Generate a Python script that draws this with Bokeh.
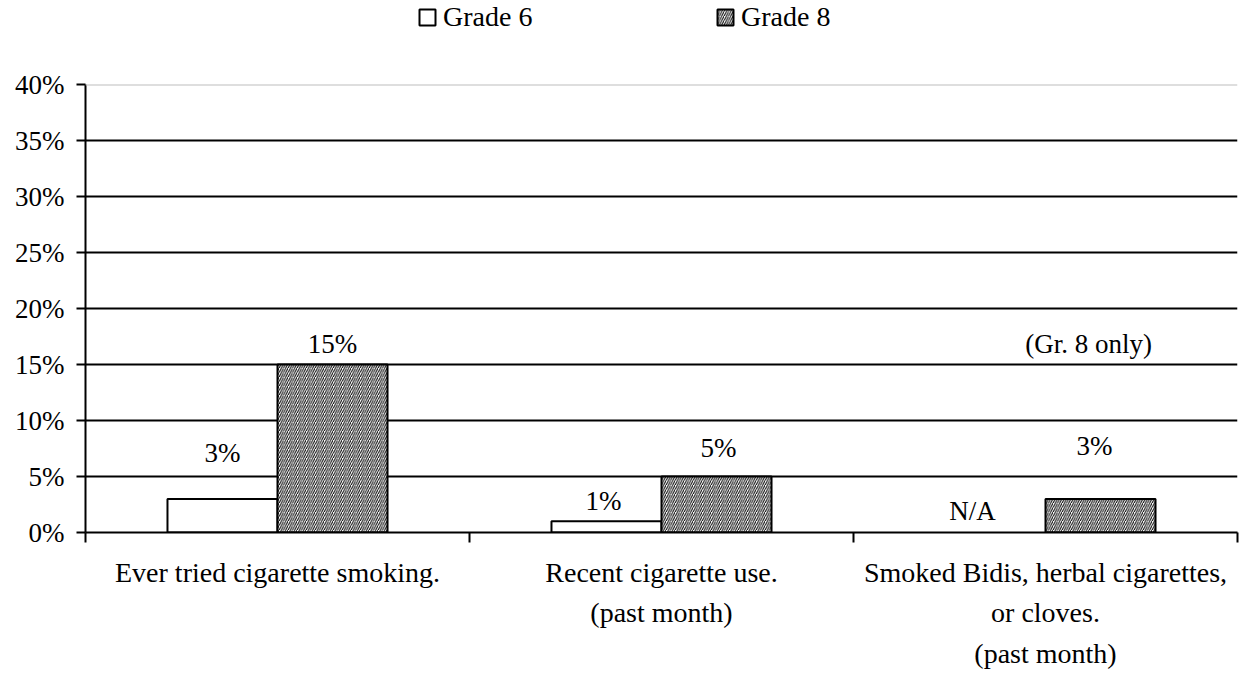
from bokeh.plotting import figure
from bokeh.layouts import column
from bokeh.models import (Range1d, FixedTicker, PrintfTickFormatter,
                          Label, LabelSet, Legend, LegendItem, ColumnDataSource, Span)
from bokeh.transform import dodge
from bokeh.core.properties import value
from bokeh.embed import file_html
from bokeh.resources import INLINE

# ---------------- data ----------------
category_lines = [
    ["Ever tried cigarette smoking."],
    ["Recent cigarette use.", "(past month)"],
    ["Smoked Bidis, herbal cigarettes,", "or cloves.", "(past month)"],
]
categories = ["\n".join(lines) for lines in category_lines]
series_names = ["Grade 6", "Grade 8"]
grade6 = [3, 1, None]
grade8 = [15, 5, 3]
y_ticks = [0, 5, 10, 15, 20, 25, 30, 35, 40]
missing_text = "N/A"
note_text = "(Gr. 8 only)"

# ---------------- layout / style ----------------
FONT = "Liberation Serif"
W, H = 1241, 674
LEG_H = 44
BAR_W = 0.2865
g6_dy = [46, 20, 22]      # label lift above bar top (px)
g6_dx = [0, -3, -18]
g8_dy = [21, 29, 53]
g8_dx = [0, 2, -6]
G8_STYLE = dict(fill_color="white", line_color="black", line_width=2,
                hatch_pattern="/", hatch_color="black", hatch_scale=4.5, hatch_weight=1)
G6_STYLE = dict(fill_color="white", line_color="black", line_width=2)

n = len(categories)
centers = [i + 0.5 for i in range(n)]   # slot centres on the category scale

p = figure(width=W, height=H - LEG_H,
           x_range=Range1d(0, n), y_range=Range1d(0, 40),
           output_backend="svg", toolbar_location=None,
           min_border_left=85, min_border_right=4, min_border_top=84 - LEG_H, min_border_bottom=142)
p.outline_line_color = None
p.background_fill_color = "white"
p.border_fill_color = "white"

# y axis
yax = p.yaxis[0]
yax.ticker = FixedTicker(ticks=y_ticks)
yax.formatter = PrintfTickFormatter(format="%d%%")
yax.axis_line_width = 2
yax.axis_line_color = "black"
yax.major_tick_out = 9
yax.major_tick_in = 0
yax.major_tick_line_width = 2
yax.minor_tick_out = 0
yax.minor_tick_in = 0
yax.major_label_standoff = 12
yax.major_label_text_font = FONT
yax.major_label_text_font_size = "27px"
yax.major_label_text_color = "black"

# grid
p.xgrid.visible = False
p.ygrid.ticker = FixedTicker(ticks=y_ticks[1:-1])
p.ygrid.grid_line_color = "black"
p.ygrid.grid_line_width = 2
p.add_layout(Span(location=y_ticks[-1], dimension="width", line_color="#bdbdbd", line_width=2))

# x axis: boundary ticks (minor), category names as labels at slot centres
xax = p.xaxis[0]
xax.ticker = FixedTicker(ticks=centers, minor_ticks=list(range(n + 1)))
xax.major_label_overrides = {c: lab for c, lab in zip(centers, categories)}
xax.axis_line_width = 2
xax.axis_line_color = "black"
xax.minor_tick_out = 10
xax.minor_tick_in = 0
xax.minor_tick_line_width = 2
xax.minor_tick_line_color = "black"
xax.major_tick_out = 0
xax.major_tick_in = 0
xax.major_label_standoff = 14
xax.major_label_text_font = FONT
xax.major_label_text_font_size = "28px"
xax.major_label_text_color = "black"
xax.major_label_text_line_height = 1.31

# bars
src = ColumnDataSource(dict(
    pos=centers,
    g6=[v if v is not None else float("nan") for v in grade6],
    g8=grade8,
    g6_lbl_y=[v if v is not None else 0 for v in grade6],
    g6_lbl=[f"{v}%" if v is not None else missing_text for v in grade6],
    g8_lbl=[f"{v}%" for v in grade8],
    g6_dy=g6_dy, g6_dx=g6_dx, g8_dy=g8_dy, g8_dx=g8_dx,
))

p.vbar(x=dodge("pos", -BAR_W / 2), top="g6", width=BAR_W, source=src, **G6_STYLE)
p.vbar(x=dodge("pos", BAR_W / 2), top="g8", width=BAR_W, source=src, **G8_STYLE)

# data labels
common = dict(text_font=value(FONT), text_font_size=value("27px"), text_color="black",
              text_align="center", text_baseline="middle", source=src)
p.add_layout(LabelSet(x=dodge("pos", -BAR_W / 2), y="g6_lbl_y", text="g6_lbl",
                      x_offset="g6_dx", y_offset="g6_dy", **common))
p.add_layout(LabelSet(x=dodge("pos", BAR_W / 2), y="g8", text="g8_lbl",
                      x_offset="g8_dx", y_offset="g8_dy", **common))

# note over the Grade-8-only category
p.add_layout(Label(x=centers[-1] + BAR_W / 2, y=grade8[-1], text=note_text,
                   x_offset=-12, y_offset=155, text_font=FONT, text_font_size="27px",
                   text_align="center", text_baseline="middle", text_color="black"))

# ---------------- legend strip ----------------
lg = figure(width=W, height=LEG_H, x_range=Range1d(0, 1), y_range=Range1d(0, 1),
            x_axis_location=None, y_axis_location=None,
            output_backend="svg", toolbar_location=None,
            min_border_left=0, min_border_right=0, min_border_top=0, min_border_bottom=0)
lg.grid.visible = False
lg.outline_line_color = None
lg.border_fill_color = "white"
lg.background_fill_color = "white"
# zero-size swatch renderers: only their legend glyphs are visible
e6 = lg.vbar(x=[0.5], top=[0], bottom=[0], width=0, **G6_STYLE)
e8 = lg.vbar(x=[0.5], top=[0], bottom=[0], width=0, **G8_STYLE)
legend = Legend(items=[LegendItem(label=series_names[0], renderers=[e6]),
                       LegendItem(label=series_names[1], renderers=[e8])],
                orientation="horizontal", location=(332, 11),
                padding=0, margin=0, spacing=0, label_width=272, label_height=20,
                glyph_width=20, glyph_height=20, label_standoff=6,
                label_text_font=FONT, label_text_font_size="28px", label_text_color="black",
                border_line_color=None, background_fill_alpha=0)
lg.add_layout(legend)

layout = column(lg, p, spacing=0)
open("out.html", "w").write(file_html(layout, INLINE))
